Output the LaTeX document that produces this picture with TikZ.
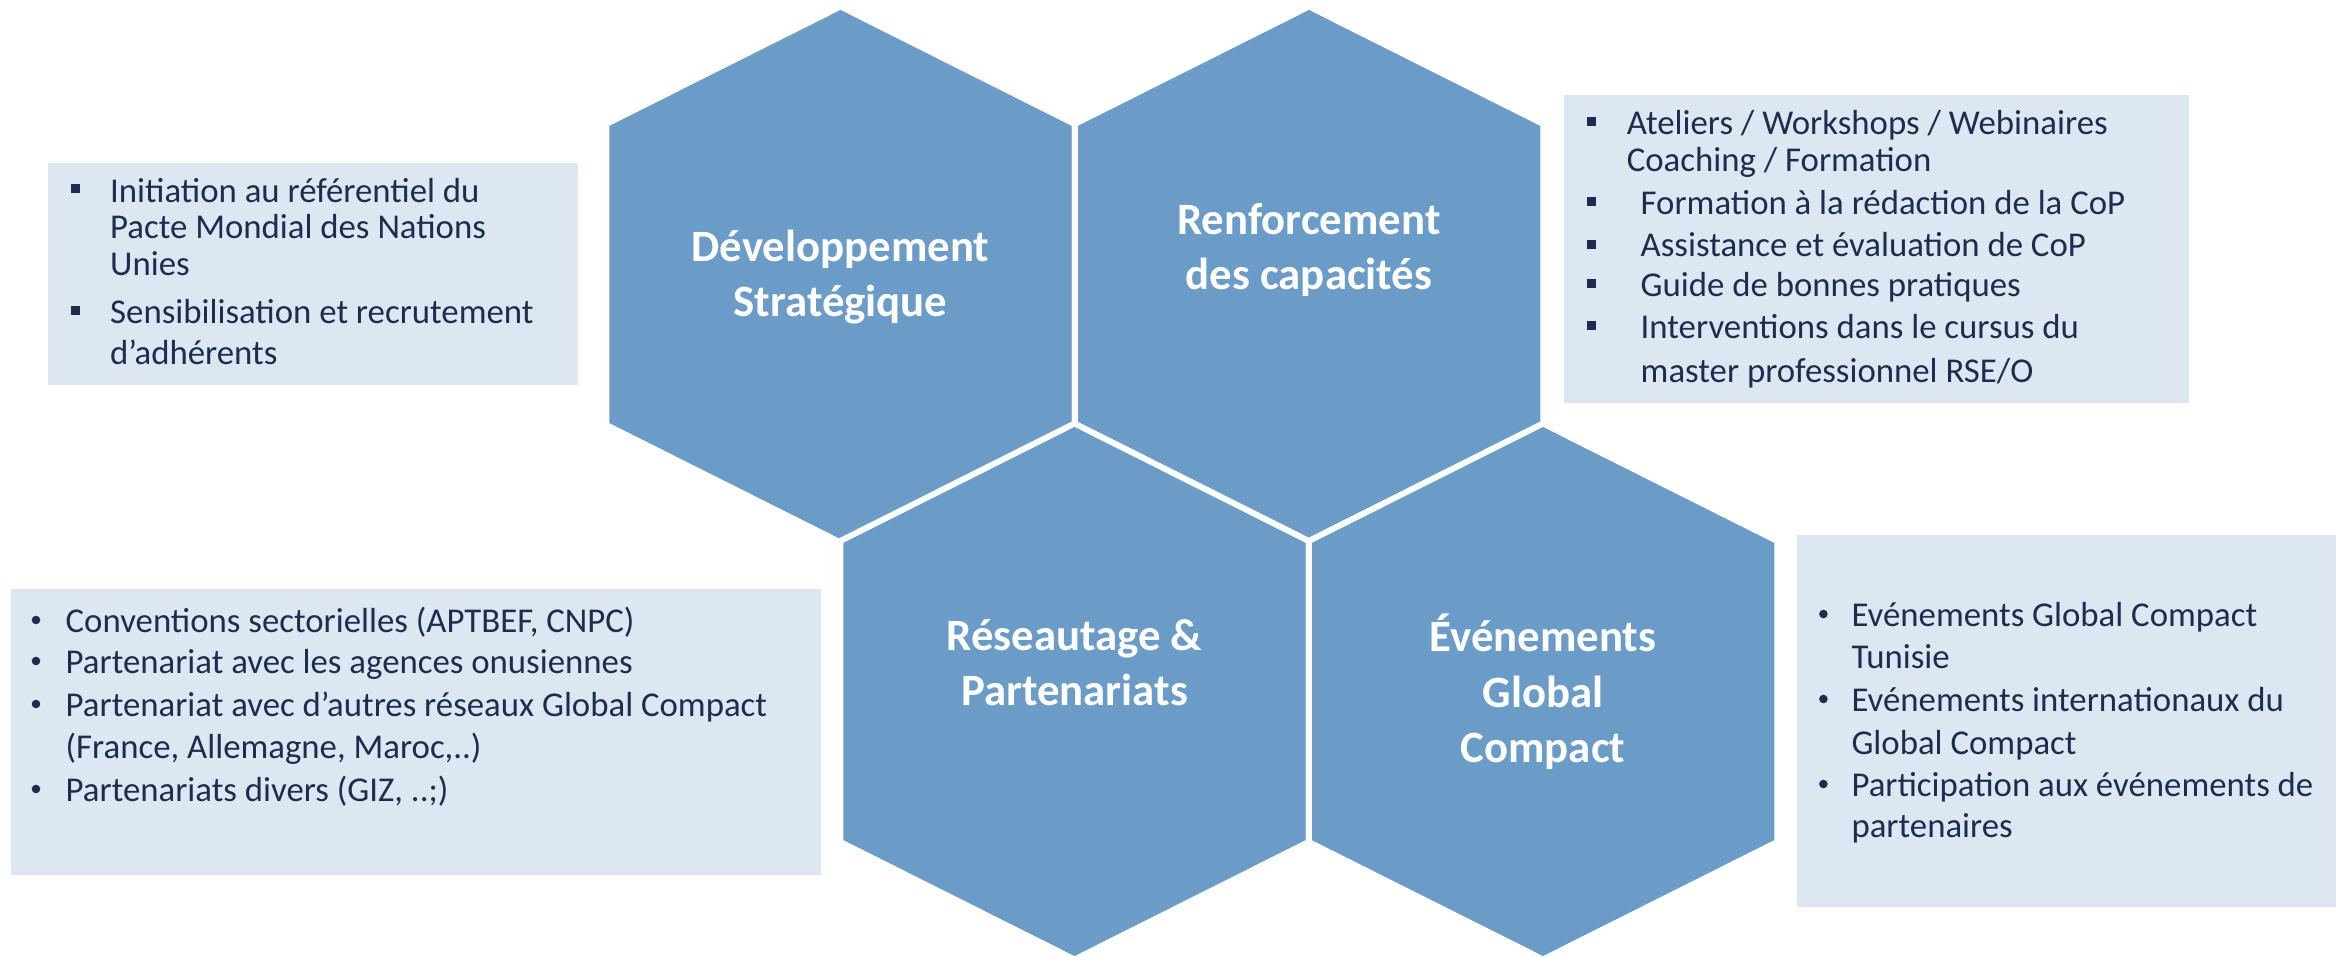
\documentclass[tikz,border=0pt]{standalone}
\usepackage{fontspec}
\setmainfont{Carlito}
\definecolor{hexblue}{RGB}{107,155,199}
\definecolor{boxfill}{RGB}{221,231,242}
\definecolor{boxtext}{RGB}{28,45,78}
\tikzset{
  hexshape/.style={fill=hexblue, draw=white, line width=6pt, line join=miter},
  hexa/.pic={\path[hexshape] (0,-268) -- (234.25,-150.5) -- (234.25,150.5) -- (0,268) -- (-234.25,150.5) -- (-234.25,-150.5) -- cycle;},
  infobox/.style={fill=boxfill},
  txt/.style={anchor=base west, inner sep=0pt, text=boxtext, font=\fontsize{34.8}{41}\selectfont},
  hexlbl/.style={anchor=base, inner sep=0pt, text=white, font=\bfseries\fontsize{44.8}{52}\selectfont},
  sqbullet/.style={fill=boxtext},
  rdbullet/.style={fill=boxtext}
}
\newcommand{\sqb}[2]{\fill[sqbullet] (#1-4.5,#2-4.5) rectangle (#1+4.5,#2+4.5);}
\newcommand{\rdb}[2]{\fill[rdbullet] (#1,#2) circle (4.3);}
\begin{document}
\begin{tikzpicture}[x=1pt,y=-1pt]
\useasboundingbox[fill=white] (0,0) rectangle (2352,957);
% hexagons
\pic at (840.5,274.5) {hexa};
\pic at (1309,274.5) {hexa};
\pic at (1074.5,691.5) {hexa};
\pic at (1543,691.5) {hexa};
% hexagon labels
\node[hexlbl] (h1a) at (840.5,262) {Développement};
\node[hexlbl] (h1b) at (840.5,317) {Stratégique};
\node[hexlbl] (h2a) at (1309,234.5) {Renforcement};
\node[hexlbl] (h2b) at (1309,289.5) {des capacités};
\node[hexlbl] (h3a) at (1074.5,650) {Réseautage \&};
\node[hexlbl] (h3b) at (1074.5,705) {Partenariats};
\node[hexlbl] (h4a) at (1543,651) {Événements};
\node[hexlbl] (h4b) at (1543,707) {Global};
\node[hexlbl] (h4c) at (1543,762.5) {Compact};
% left box
\fill[infobox] (48,163) rectangle (578,385);
\sqb{75.4}{189}
\node[txt] (l1) at (110,202.6) {Initiation au référentiel du};
\node[txt] (l2) at (110,239) {Pacte Mondial des Nations};
\node[txt] (l3) at (110,276) {Unies};
\sqb{75.4}{310.5}
\node[txt] (l4) at (110,324) {Sensibilisation et recrutement};
\node[txt] (l5) at (110,364) {d’adhérents};
% top right box
\fill[infobox] (1564,95) rectangle (2189,403);
\sqb{1591}{121.4}
\node[txt] (r1) at (1626.6,135) {Ateliers / Workshops / Webinaires};
\node[txt] (r2) at (1626.6,171.5) {Coaching / Formation};
\sqb{1591}{201.8}
\node[txt] (r3) at (1640.5,214.5) {Formation à la rédaction de la CoP};
\sqb{1591}{244.3}
\node[txt] (r4) at (1640.5,257) {Assistance et évaluation de CoP};
\sqb{1591}{283.5}
\node[txt] (r5) at (1640.5,296.5) {Guide de bonnes pratiques};
\sqb{1591}{326}
\node[txt] (r6) at (1640.5,339) {Interventions dans le cursus du};
\node[txt] (r7) at (1640.5,382) {master professionnel RSE/O};
% bottom left box
\fill[infobox] (11,589) rectangle (821,875);
\rdb{36}{620}
\node[txt] (b1) at (65.5,632) {Conventions sectorielles (APTBEF, CNPC)};
\rdb{36}{661}
\node[txt] (b2) at (65.5,673) {Partenariat avec les agences onusiennes};
\rdb{36}{704}
\node[txt] (b3) at (65.5,716) {Partenariat avec d’autres réseaux Global Compact};
\node[txt] (b4) at (65.5,758) {(France, Allemagne, Maroc,..)};
\rdb{36}{789}
\node[txt] (b5) at (65.5,801) {Partenariats divers (GIZ, ..;)};
% bottom right box
\fill[infobox] (1797,535) rectangle (2336,907);
\rdb{1823.4}{614}
\node[txt] (e1) at (1851.3,626) {Evénements Global Compact};
\node[txt] (e2) at (1851.3,668) {Tunisie};
\rdb{1823.4}{699}
\node[txt] (e3) at (1851.3,711) {Evénements internationaux du};
\node[txt] (e4) at (1851.3,754) {Global Compact};
\rdb{1823.4}{784}
\node[txt] (e5) at (1851.3,796) {Participation aux événements de};
\node[txt] (e6) at (1851.3,837) {partenaires};
\end{tikzpicture}
\end{document}
